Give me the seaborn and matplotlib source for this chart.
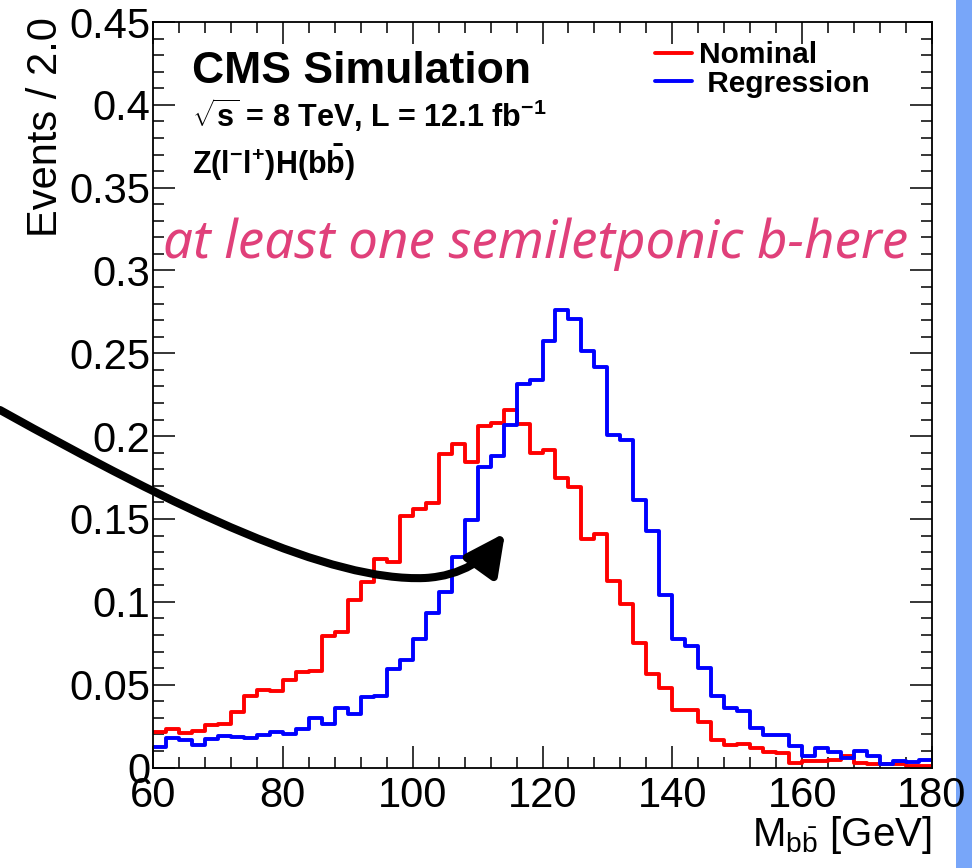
import numpy as np
import pandas as pd
import matplotlib
matplotlib.use("Agg")
import matplotlib.pyplot as plt
import seaborn as sns
from matplotlib.lines import Line2D
from matplotlib.patches import FancyArrowPatch, Rectangle
from matplotlib.path import Path
from matplotlib.ticker import MultipleLocator, FuncFormatter

# Dijet invariant mass, 2 GeV bins from 60 to 180 GeV
bin_lo, bin_hi, bin_width = 60, 180, 2

nominal = [
    0.0213, 0.0231, 0.0211, 0.0222, 0.0254, 0.0260, 0.0334, 0.0430, 0.0469, 0.0460,
    0.0530, 0.0574, 0.0580, 0.0793, 0.0815, 0.1012, 0.1119, 0.1256, 0.1238, 0.1516,
    0.1562, 0.1598, 0.1890, 0.1955, 0.1842, 0.2063, 0.2080, 0.2155, 0.2073, 0.1901,
    0.1919, 0.1748, 0.1693, 0.1381, 0.1411, 0.1125, 0.0984, 0.0752, 0.0564, 0.0480,
    0.0346, 0.0346, 0.0274, 0.0167, 0.0133, 0.0143, 0.0117, 0.0092, 0.0086, 0.0026,
    0.0038, 0.0038, 0.0046, 0.0072, 0.0026, 0.0022, 0.0020, 0.0022, 0.0012, 0.0012,
]
regression = [
    0.0123, 0.0181, 0.0167, 0.0135, 0.0171, 0.0193, 0.0187, 0.0181, 0.0199, 0.0217,
    0.0205, 0.0235, 0.0300, 0.0260, 0.0360, 0.0324, 0.0425, 0.0430, 0.0596, 0.0646,
    0.0777, 0.0934, 0.1059, 0.1270, 0.1491, 0.1811, 0.1881, 0.2067, 0.2317, 0.2340,
    0.2574, 0.2760, 0.2705, 0.2514, 0.2417, 0.2007, 0.1977, 0.1612, 0.1427, 0.1039,
    0.0773, 0.0734, 0.0598, 0.0429, 0.0360, 0.0342, 0.0240, 0.0197, 0.0197, 0.0127,
    0.0072, 0.0119, 0.0092, 0.0059, 0.0098, 0.0072, 0.0022, 0.0038, 0.0032, 0.0046,
]
methods = ["Nominal", "Regression"]
method_colors = {"Nominal": "#ff0000", "Regression": "#0000ff"}
legend_labels = {"Nominal": "Nominal", "Regression": " Regression"}

edges = np.arange(bin_lo, bin_hi + bin_width, bin_width)
centers = edges[:-1] + bin_width / 2
df = pd.DataFrame({
    "mbb": np.concatenate([centers, centers]),
    "weight": nominal + regression,
    "method": ["Nominal"] * len(nominal) + ["Regression"] * len(regression),
})

sns.set_style("ticks")
plt.rcParams["font.family"] = ["Liberation Sans", "DejaVu Sans"]
plt.rcParams["mathtext.fontset"] = "custom"
plt.rcParams["mathtext.rm"] = "Liberation Sans"
plt.rcParams["mathtext.it"] = "Liberation Sans:italic"
plt.rcParams["mathtext.bf"] = "Liberation Sans:bold"
for key in ["text.color", "axes.labelcolor", "xtick.color", "ytick.color",
            "axes.edgecolor", "xtick.labelcolor", "ytick.labelcolor"]:
    plt.rcParams[key] = "black"

W, H = 980, 868
fig = plt.figure(figsize=(W / 100, H / 100), dpi=100)
fig.patch.set_facecolor("white")


def fp(x, y):
    """pixel position -> figure fraction"""
    return x / W, 1 - y / H


# Slide edge strip, kept behind the axes and its labels
fig.add_artist(Rectangle((956 / W, 0), 16 / W, 1, transform=fig.transFigure,
                         facecolor="#78a6f9", edgecolor="none", zorder=-5))

ax_l, ax_r, ax_t, ax_b = 153, 932, 22, 767.5
ax = fig.add_axes([ax_l / W, 1 - ax_b / H, (ax_r - ax_l) / W, (ax_b - ax_t) / H])
ax.patch.set_alpha(0)

for m in methods:
    sns.histplot(data=df[df["method"] == m], x="mbb", weights="weight",
                 binwidth=bin_width, binrange=(bin_lo, bin_hi),
                 element="step", fill=False, color=method_colors[m],
                 linewidth=2.8, ax=ax)

tick_fs = 30
ax.set_xlim(bin_lo, bin_hi)
ax.set_ylim(0, 0.45)
ax.xaxis.set_major_locator(MultipleLocator(20))
ax.xaxis.set_minor_locator(MultipleLocator(4))
ax.yaxis.set_major_locator(MultipleLocator(0.05))
ax.yaxis.set_minor_locator(MultipleLocator(0.01))
ax.yaxis.set_major_formatter(FuncFormatter(lambda v, _: f"{v:g}"))
ax.tick_params(which="both", direction="in", top=True, right=True,
               width=1.1, color="black", labelcolor="black", labelsize=tick_fs)
ax.tick_params(which="major", length=16)
ax.tick_params(which="minor", length=8)
ax.tick_params(axis="x", pad=6)
ax.tick_params(axis="y", pad=2)
for s in ax.spines.values():
    s.set_linewidth(1.3)
    s.set_color("black")

ax.set_xlabel(r"M$_{\mathrm{b\bar{b}}}$ [GeV]", fontsize=29, loc="right")
ax.xaxis.set_label_coords(1.0, -0.062)
ax.set_ylabel("Events / 2.0", fontsize=tick_fs, loc="top")
ax.yaxis.set_label_coords(-0.112, 1.006)

# Header text
fig.text(*fp(192, 83), "CMS Simulation", fontsize=32, fontweight="bold", va="baseline")
fig.text(*fp(192, 127), r"$\mathbf{\sqrt{s}}$ = 8 TeV, L = 12.1 fb$^{\mathbf{-1}}$",
         fontsize=22, fontweight="bold", va="baseline")
fig.text(*fp(192, 174), r"$\mathbf{Z(l^{-}l^{+})H(b\bar{b})}$",
         fontsize=22, va="baseline")

# Legend
handles = [Line2D([], [], color=method_colors[m], linewidth=2.8) for m in methods]
ax.legend(handles, [legend_labels[m] for m in methods], loc="upper left",
          bbox_to_anchor=fp(655, 41), bbox_transform=fig.transFigure,
          frameon=False, prop={"size": 21.5, "weight": "bold"},
          handlelength=1.25, handletextpad=0.22, borderpad=0, borderaxespad=0,
          labelspacing=0.02)

# Handwritten note and arrow
note = fig.text(*fp(163, 258), "at least one semiletponic b-here",
                fontsize=30, color="#e0407a", style="italic",
                family=["Noto Sans", "DejaVu Sans"], va="baseline")
fig.canvas.draw()
w = note.get_window_extent().width
note.set_fontsize(note.get_fontsize() * 745 / w)

arrow_pts = [fp(0, 410), fp(180, 510), fp(330, 582), fp(425, 578),
             fp(462, 576), fp(487, 558), fp(505, 533)]
arrow_codes = [Path.MOVETO] + [Path.CURVE4] * 6
arrow = FancyArrowPatch(path=Path(arrow_pts, arrow_codes), transform=fig.transFigure,
                        arrowstyle="-|>,head_length=24,head_width=12",
                        linewidth=5.8, color="black", mutation_scale=1,
                        clip_on=False, zorder=5)
fig.add_artist(arrow)

fig.savefig("out.png", dpi=100)
